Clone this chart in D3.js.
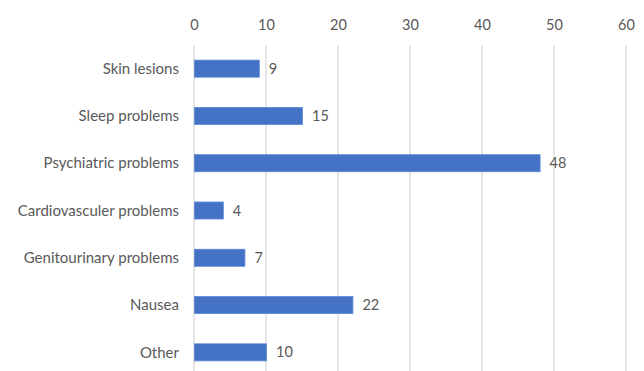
<!DOCTYPE html>
<html>
<head>
<meta charset="utf-8">
<script src="https://cdn.jsdelivr.net/npm/d3@7"></script>
<style>
  body { margin: 0; background: #fff; }
  svg text { font-family: Lato, "Open Sans", sans-serif; fill: #595959; }
</style>
</head>
<body>
<div id="chart"></div>
<script>
    var categories = ['Skin lesions', 'Sleep problems', 'Psychiatric problems', 'Cardiovasculer problems',
        'Genitourinary problems', 'Nausea', 'Other']
    var values = [9, 15, 48, 4, 7, 22, 10]
    var tickValues = [0, 10, 20, 30, 40, 50, 60]

    var width = 644, height = 371

    var svg = d3.select('#chart')
        .append('svg')
        .attr('width', width)
        .attr('height', height)

    // Scales
    var x = d3.scaleLinear()
        .domain([0, 60])
        .range([194, 626])

    var y = d3.scaleBand()
        .domain(categories)
        .range([45, 376])
        .paddingInner(0.64)
        .paddingOuter(0.32)

    // Gridlines
    svg.selectAll('.grid')
        .data(tickValues)
        .enter()
        .append('line')
        .attr('class', 'grid')
        .attr('x1', d => x(d))
        .attr('x2', d => x(d))
        .attr('y1', 45)
        .attr('y2', 371)
        .attr('stroke', '#d9d9d9')
        .attr('stroke-width', 1.3)

    // Top axis labels
    var axis = svg.append('g')
        .attr('transform', 'translate(0,30)')
        .call(d3.axisTop(x).tickValues(tickValues).tickSize(0).tickPadding(0))
    axis.select('.domain').remove()
    axis.selectAll('text')
        .attr('font-size', 14.5)
        .style('font-family', 'Lato, sans-serif')
        .attr('fill', '#595959')

    // Category labels
    svg.selectAll('.cat')
        .data(categories)
        .enter()
        .append('text')
        .attr('class', 'cat')
        .attr('x', 179)
        .attr('y', d => y(d) + y.bandwidth() / 2)
        .attr('dy', '0.35em')
        .attr('text-anchor', 'end')
        .attr('font-size', 15)
        .text(d => d)

    // Bars
    svg.selectAll('.bar')
        .data(values)
        .enter()
        .append('rect')
        .attr('class', 'bar')
        .attr('x', x(0) + 0.5)
        .attr('y', (d, i) => y(categories[i]))
        .attr('width', d => x(d) - x(0))
        .attr('height', y.bandwidth())
        .attr('fill', '#4472c4')
        .attr('stroke', '#5b87d6')
        .attr('stroke-width', 0.8)

    // Value labels
    svg.selectAll('.val')
        .data(values)
        .enter()
        .append('text')
        .attr('class', 'val')
        .attr('x', d => x(d) + 10)
        .attr('y', (d, i) => y(categories[i]) + y.bandwidth() / 2)
        .attr('dy', '0.35em')
        .attr('font-size', 14.5)
        .text(d => d)
</script>
</body>
</html>
